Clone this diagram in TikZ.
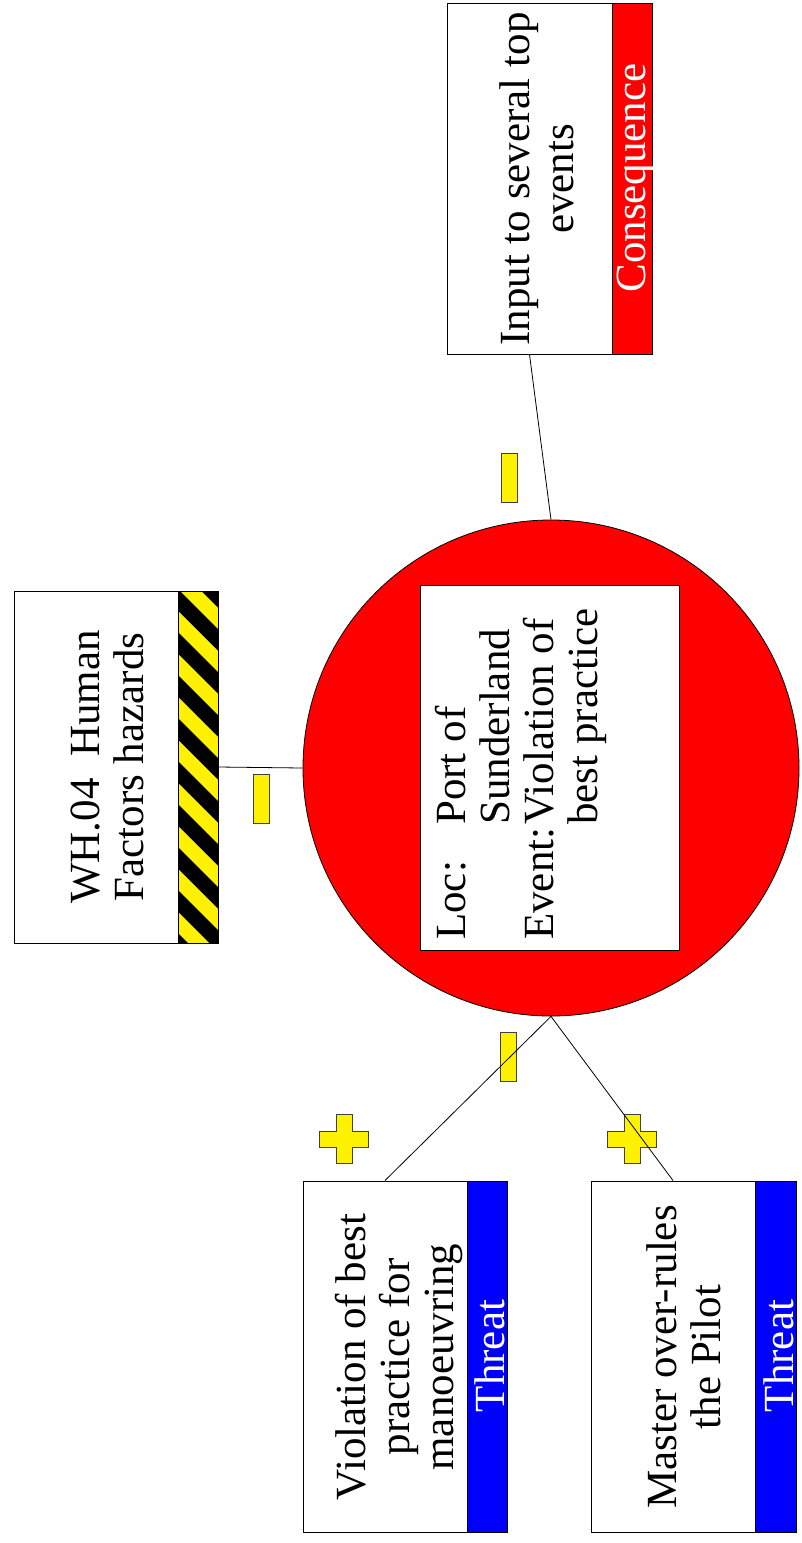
\documentclass[tikz,border=0pt]{standalone}
\usepackage{fontspec}
\setmainfont{Liberation Serif}
\usepackage{array}
\begin{document}
\begin{tikzpicture}[x=1pt,y=-1pt,
  whitebox/.style={draw=black, line width=1pt, fill=white, rectangle, inner sep=0pt},
  bandbox/.style={draw=black, line width=1pt, rectangle, inner sep=0pt},
  lbl/.style={rotate=90, font=\fontsize{43}{44}\selectfont, align=center, inner sep=0pt},
  bandlbl/.style={rotate=90, font=\fontsize{43}{44}\selectfont, text=white, inner sep=0pt, anchor=base},
  signbox/.style={draw=black!75, fill=yellow, line width=0.8pt, rectangle, inner sep=0pt, minimum width=16pt, minimum height=49pt},
  conn/.style={draw=black, line width=0.8pt},
  plussign/.pic={\path[draw=black!75, fill=yellow, line width=0.8pt]
    (-8,-24.5) -- (8,-24.5) -- (8,-8) -- (24.5,-8) -- (24.5,8) -- (8,8) -- (8,24.5)
    -- (-8,24.5) -- (-8,8) -- (-24.5,8) -- (-24.5,-8) -- (-8,-8) -- cycle;}
]
\useasboundingbox (0,0) rectangle (801,1543);

% Hazard
\node[whitebox, minimum width=164pt, minimum height=352pt] (hw) at (96,767) {};
\begin{scope}
  \clip (178,591) rectangle (218,943);
  \fill[yellow] (178,591) rectangle (218,943);
  \foreach \k in {-2,...,9} {
    \fill[black] (178,{589+43*\k}) -- (218,{629+43*\k}) -- (218,{650.5+43*\k}) -- (178,{610.5+43*\k}) -- cycle;
  }
\end{scope}
\node[bandbox, minimum width=40pt, minimum height=352pt] (hb) at (198,767) {};
\node[lbl] (ht) at (113,767) {\strut WH.04~~Human\\Factors hazards\strut};

% Top event
\node[circle, draw=black, line width=0.8pt, fill=red, minimum size=496pt, inner sep=0pt] (ev) at (551,768) {};
\node[whitebox, minimum width=259pt, minimum height=365pt] (ib) at (549.5,767.5) {};
\node[rotate=90, font=\fontsize{43}{44}\selectfont, inner sep=0pt, anchor=north west] (it) at (434,940)
  {\begin{tabular}{@{}>{\raggedright\arraybackslash}p{115pt}@{}>{\raggedright\arraybackslash}p{230pt}@{}}
   Loc: & Port of\newline Sunderland\\
   Event: & Violation of\newline best practice
   \end{tabular}};

% Consequence
\node[whitebox, minimum width=165pt, minimum height=351pt] (cw) at (529.5,178.5) {};
\node[bandbox, fill=red, minimum width=40pt, minimum height=351pt] (cb) at (632,178.5) {};
\node[lbl] (ct) at (543,179) {\strut Input to several top\\events\strut};
\node[bandlbl] (cl) at (645,178) {Consequence};

% Threat 1
\node[whitebox, minimum width=164pt, minimum height=351pt] (t1w) at (385,1356.5) {};
\node[bandbox, fill=blue, minimum width=40pt, minimum height=351pt] (t1b) at (487,1356.5) {};
\node[lbl] (t1t) at (401,1357) {\strut Violation of best\\practice for\\manoeuvring\strut};
\node[bandlbl] (t1l) at (504,1356) {Threat};

% Threat 2
\node[whitebox, minimum width=164pt, minimum height=351pt] (t2w) at (673,1356.5) {};
\node[bandbox, fill=blue, minimum width=41pt, minimum height=351pt] (t2b) at (775.5,1356.5) {};
\node[lbl] (t2t) at (690,1357) {\strut Master over-rules\\the Pilot\strut};
\node[bandlbl] (t2l) at (793,1356) {Threat};

% Signs
\node[signbox] (m1) at (261,799) {};
\node[signbox] (m2) at (509,477.5) {};
\node[signbox] (m3) at (508.5,1056.5) {};
\pic at (344,1139) {plussign};
\pic at (632,1139) {plussign};

% Connectors
\draw[conn] (hb.east) -- (ev.west);
\draw[conn] (cw.south) -- (ev.north);
\draw[conn] (ev.south) -- (t1w.north);
\draw[conn] (ev.south) -- (t2w.north);
\end{tikzpicture}
\end{document}
